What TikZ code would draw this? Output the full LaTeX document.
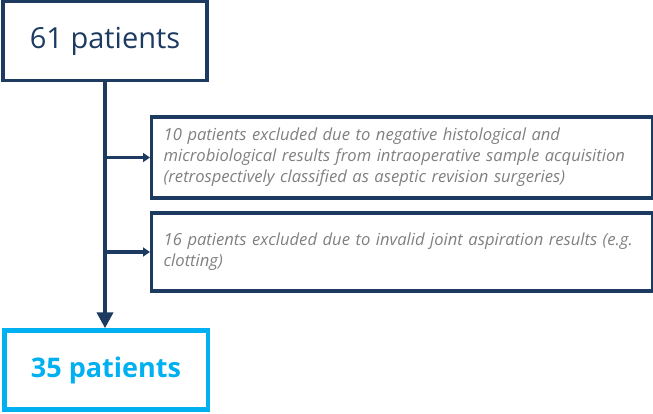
\documentclass[tikz,border=0pt]{standalone}
\usepackage{fontspec}
\setmainfont{Open Sans}
\usetikzlibrary{arrows.meta,positioning,calc}
\definecolor{FlowNavy}{HTML}{1D3B61}
\definecolor{FlowCyan}{HTML}{00B0F0}
\definecolor{NoteGrey}{HTML}{808080}

\begin{document}
\begin{tikzpicture}[x=1pt, y=-1pt,
  total/.style={draw=FlowNavy, line width=3.6pt, minimum width=204pt, minimum height=79pt,
                inner sep=0pt, font=\fontsize{29}{34}\selectfont\color{FlowNavy}},
  final/.style={draw=FlowCyan, line width=4.5pt, minimum width=203.5pt, minimum height=79pt,
                inner sep=0pt, font=\bfseries\fontsize{27}{32}\selectfont\color{FlowCyan}},
  excl/.style={draw=FlowNavy, line width=3.4pt, anchor=west, minimum width=501pt,
               text width=477pt, inner xsep=12pt, inner ysep=0pt, align=left,
               font=\itshape\fontsize{16.6}{21}\selectfont\color{NoteGrey}},
  trunk/.style={draw=FlowNavy, line width=4.8pt, -{Triangle[width=16pt,length=16pt]}},
  branch/.style={draw=FlowNavy, line width=3.4pt, -{Triangle[width=9pt,length=7pt]}}]
  \useasboundingbox (0,0) rectangle (653,414);
  \node[total] (all) at (105,41) {61 patients};
  \node[excl, minimum height=81pt] (ex1) at (150,157.5)
    {10 patients excluded due to negative histological and\\
     microbiological results from intraoperative sample acquisition\\
     (retrospectively classified as aseptic revision surgeries)};
  \node[excl, minimum height=78pt] (ex2) at (150,252)
    {\mbox{16 patients excluded due to invalid joint aspiration results (e.g.}\\
     clotting)};
  \node[final] (kept) at (106,370) {35 patients};
  % flow
  \draw[trunk] (all.south) -- (all.south |- kept.north);
  \draw[branch] (all.south |- ex1.west) -- (ex1.west);
  \draw[branch] (all.south |- ex2.west) -- (ex2.west);
\end{tikzpicture}
\end{document}
